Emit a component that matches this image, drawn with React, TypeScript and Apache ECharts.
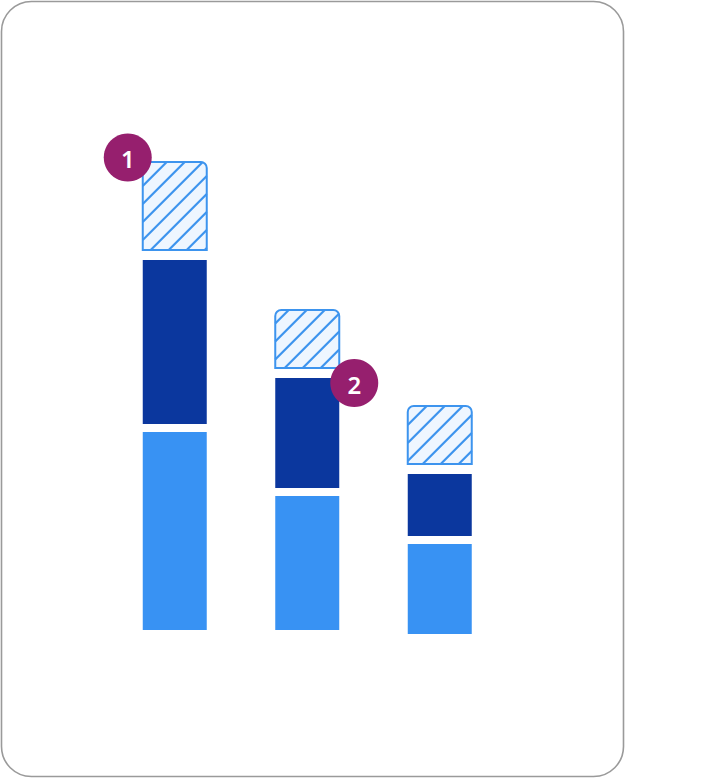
import * as echarts from "echarts";
import { useEffect, useRef } from "react";

// 세 막대, 아래에서부터 연한 파랑 / 진한 파랑 / 빗금. 단위 1 = 2px.
const categories = ["A", "B", "C"];
const baseline = [2, 2, 0];
const lightValues = [99, 67, 45];
const darkValues = [82, 55, 31];
const hatchValues = [44, 29, 29];
const badgeIndex = [0, 1];
const badgeText = ["1", "2"];

const LIGHT = "#3892f3";
const DARK = "#0b379e";
const HATCH = "#3d94ee";
const HATCH_FILL = "#eef6ff";
const BADGE = "#961f6e";
const BAR_W = 64;
const GAP = 8;

export default function App() {
  const box = useRef<HTMLDivElement>(null);

  useEffect(() => {
    if (!box.current) return;
    const c = echarts.init(box.current, undefined, { renderer: "svg" });

    const data = categories.map((_, i) => [i, lightValues[i], darkValues[i], hatchValues[i], baseline[i]]);

    const renderItem = (params: any, api: any) => {
      const i = api.value(0);
      const cx = api.coord([i, 0])[0];
      const x0 = cx - BAR_W / 2;
      const x1 = cx + BAR_W / 2;
      const yBase = api.coord([i, api.value(4)])[1];
      const lightH = api.size([0, api.value(1)])[1];
      const darkH = api.size([0, api.value(2)])[1];
      const hatchH = api.size([0, api.value(3)])[1];

      const lightTop = yBase - lightH;
      const darkBottom = lightTop - GAP;
      const darkTop = darkBottom - darkH;
      const hatchBottom = darkTop - 10;
      const hatchTop = hatchBottom - hatchH;

      const children: any[] = [
        { type: "rect", shape: { x: x0, y: lightTop, width: BAR_W, height: lightH }, style: { fill: LIGHT } },
        { type: "rect", shape: { x: x0, y: darkTop, width: BAR_W, height: darkH }, style: { fill: DARK } },
        {
          type: "rect",
          shape: { x: x0, y: hatchTop, width: BAR_W, height: hatchH, r: [6, 6, 0, 0] },
          style: { fill: HATCH_FILL },
        },
      ];

      // 빗금: x + y = c 직선을 사각형 안으로 잘라 그린다.
      const step = 18;
      const lo = x0 + hatchTop;
      const hi = x1 + hatchBottom;
      for (let k = Math.ceil((lo - 4.7) / step); step * k + 4.7 <= hi; k++) {
        const cc = step * k + 4.7;
        const xa = Math.max(x0, cc - hatchBottom);
        const xb = Math.min(x1, cc - hatchTop);
        if (xb - xa < 1) continue;
        children.push({
          type: "line",
          shape: { x1: xa, y1: cc - xa, x2: xb, y2: cc - xb },
          style: { stroke: HATCH, lineWidth: 2.2 },
        });
      }
      children.push({
        type: "rect",
        shape: { x: x0, y: hatchTop, width: BAR_W, height: hatchH, r: [6, 6, 0, 0] },
        style: { fill: "none", stroke: HATCH, lineWidth: 2 },
      });

      const b = badgeIndex.indexOf(params.dataIndex);
      if (b >= 0) {
        const bx = b === 0 ? x0 - 15 : x1 + 15;
        const by = b === 0 ? hatchTop - 4.5 : darkTop + 5;
        children.push({ type: "circle", shape: { cx: bx, cy: by, r: 24 }, style: { fill: BADGE } });
        children.push({
          type: "text",
          style: {
            text: badgeText[b],
            x: bx,
            y: by + 1,
            align: "center",
            verticalAlign: "middle",
            fill: "#fff",
            fontSize: 24,
            fontWeight: 600,
            fontFamily: "Noto Sans",
          },
        });
      }
      return { type: "group", children };
    };

    c.setOption({
      animation: false,
      grid: { left: 108.5, width: 397.5, top: 34, bottom: 144 },
      xAxis: { type: "category", data: categories, show: false },
      yAxis: { type: "value", min: 0, max: 300, show: false },
      graphic: [
        {
          type: "rect",
          shape: { x: 1.5, y: 1.5, width: 622, height: 775, r: 30 },
          style: { fill: "none", stroke: "#9a9a9a", lineWidth: 1.6 },
          silent: true,
        },
      ],
      series: [
        {
          type: "custom",
          renderItem,
          encode: { x: 0, y: [1, 2, 3] },
          data,
          clip: false,
        },
      ],
    });

    return () => c.dispose();
  }, []);

  return (
    <div
      ref={box}
      style={{ position: "absolute", left: 0, top: 0, width: 728, height: 778 }}
      role="img"
      aria-label="세 개의 누적 막대 차트"
    />
  );
}
